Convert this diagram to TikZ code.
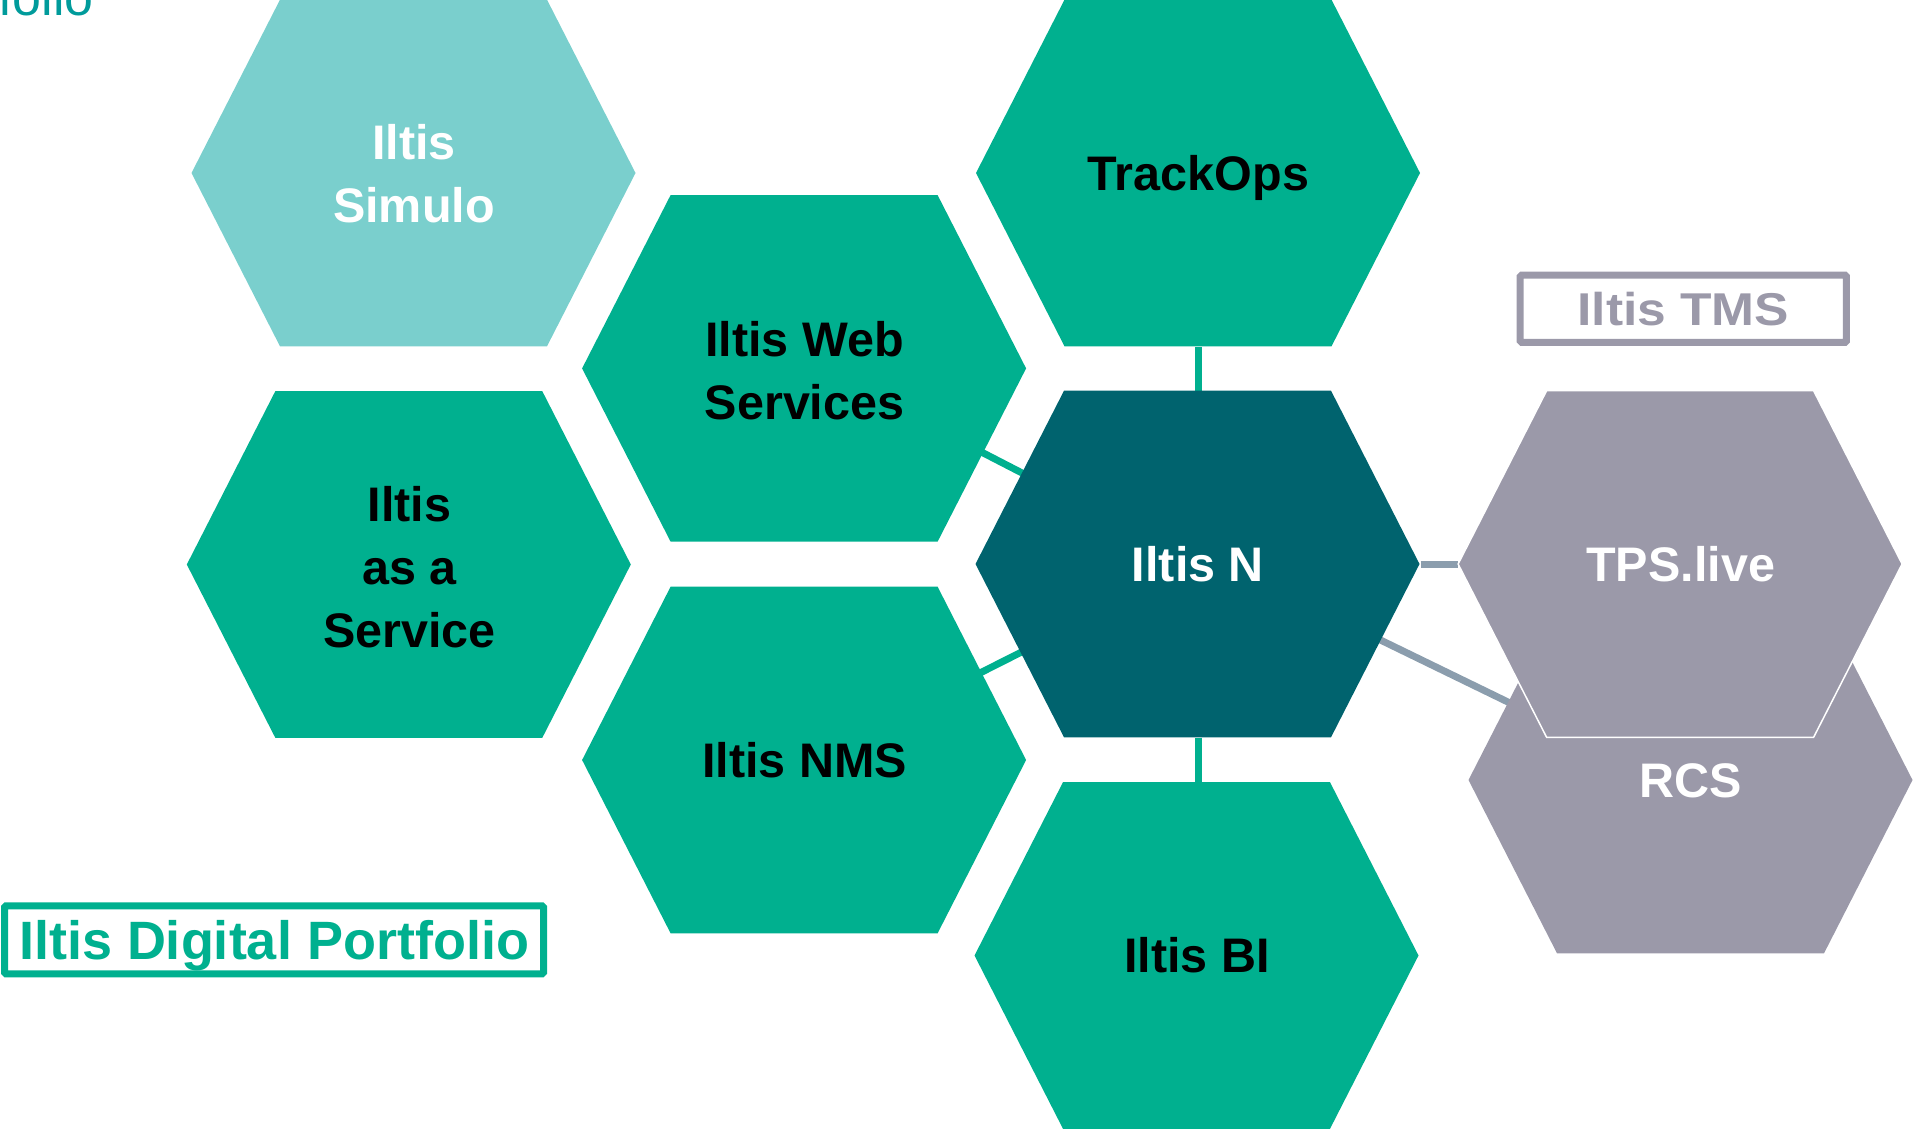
\documentclass[tikz,border=0pt]{standalone}
\usepackage{fontspec}
\setmainfont{Liberation Sans}
\usetikzlibrary{calc,backgrounds}
\definecolor{igreen}{HTML}{00B08F}
\definecolor{ilight}{HTML}{7ACFCD}
\definecolor{idark}{HTML}{00636E}
\definecolor{igrey}{HTML}{9B99A9}
\definecolor{iconn}{HTML}{8B9DAD}
\definecolor{ititle}{HTML}{009B9B}
\tikzset{
  hexnode/.style={minimum width=445pt, minimum height=346.6pt, inner sep=0pt, align=center,
    font=\bfseries\fontsize{48.5}{63}\selectfont},
  oneline/.style={text height=34.7pt, text depth=0pt},
  gconn/.style={draw=igreen, line width=7pt},
  sconn/.style={draw=iconn, line width=7pt},
  framebox/.style={line width=7pt, rounded corners=1.5pt, inner sep=0pt, text depth=0pt},
}
% #1 name, #2 x, #3 y, #4 fill options, #5 node options, #6 text
\newcommand\hexagon[6]{%
  \path[#4] (#2,#3) ++(-222.5,0) -- ++(88.5,-173.3) -- ++(267,0) -- ++(88.5,173.3)
     -- ++(-88.5,173.3) -- ++(-267,0) -- cycle;
  \node[hexnode,#5] (#1) at (#2,#3) {#6};}
\begin{document}
\begin{tikzpicture}[x=1pt,y=-1pt]
\useasboundingbox (0,0) rectangle (1913,1131);
\node[anchor=base east, text=ititle, font=\fontsize{52}{60}\selectfont, inner sep=0pt] (title) at (94,16) {Portfolio};
\hexagon{simulo}{414}{173}{fill=ilight}{text=white,yshift=-1pt}{Iltis\\Simulo}
\hexagon{trackops}{1198.5}{173}{fill=igreen}{text=black,oneline}{TrackOps}
\hexagon{web}{804.6}{368.4}{fill=igreen}{text=black,yshift=-2.5pt}{Iltis Web\\Services}
\hexagon{service}{409.3}{564.5}{fill=igreen}{text=black,yshift=-3pt}{Iltis\\as a\\Service}
\hexagon{iltisn}{1198}{564}{fill=idark}{text=white,oneline}{Iltis N}
\hexagon{nms}{804.6}{760}{fill=igreen}{text=black,oneline}{Iltis NMS}
\hexagon{bi}{1197}{955.5}{fill=igreen}{text=black,oneline}{Iltis BI}
\hexagon{rcs}{1691}{780}{fill=igrey}{text=white,oneline}{RCS}
\hexagon{tps}{1680.6}{564}{fill=igrey,draw=white,line width=1.5pt}{text=white,oneline}{TPS.live}
\node[framebox, draw=igrey, text=igrey, minimum width=326.3pt, minimum height=67.3pt,
  font=\bfseries\fontsize{46}{50}\selectfont\addfontfeatures{FakeStretch=1.12}] (tms) at (1683.3,308.8) {Iltis TMS};
\node[framebox, draw=igreen, text=igreen, minimum width=539pt, minimum height=68pt,
  font=\bfseries\fontsize{54}{58}\selectfont] (portfolio) at (274,939.8) {Iltis Digital Portfolio};
\begin{scope}[on background layer]
\draw[gconn] (iltisn.north) -- (iltisn.north |- trackops.south);
\draw[gconn] (iltisn.south) -- (iltisn.south |- bi.north);
\draw[gconn] ($(web.center)+(176.4,80.9)$) -- ($(iltisn.center)+(-174,-90)$);
\draw[gconn] ($(nms.center)+(173.4,-86)$) -- ($(iltisn.center)+(-173.5,86.5)$);
\draw[sconn] (iltisn.east) -- (tps.west);
\draw[sconn] ($(iltisn.center)+(177.5,73.6)$) -- ($(rcs.center)+(-179,-76)$);
\end{scope}
\end{tikzpicture}
\end{document}
